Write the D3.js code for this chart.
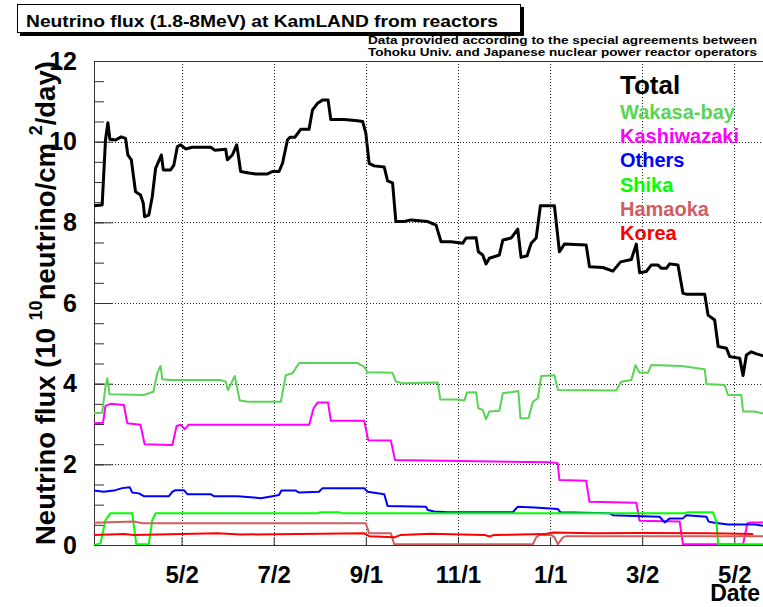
<!DOCTYPE html>
<html>
<head>
<meta charset="utf-8">
<title>KamLAND reactor flux</title>
<script src="https://cdn.jsdelivr.net/npm/d3@7"></script>
<style>
body { margin:0; background:#fff; }
svg { display:block; font-family:"Liberation Sans", Arial, Helvetica, sans-serif; font-weight:bold; }
</style>
</head>
<body>
<svg width="763" height="607"></svg>
<script>
// days counted from 2003-03-05
var tickDates = ["2003-05-02","2003-07-02","2003-09-01","2003-11-01","2004-01-01","2004-03-02","2004-05-02"];
var tickLabels = ["5/2","7/2","9/1","11/1","1/1","3/2","5/2"];

var totalDay = [0,5.4,7.6,9.2,10.5,14.3,18,20.9,22.4,24.7,27.5,30.8,32.6,33.5,36.3,38.6,40.8,44.6,45.9,50.7,52.9,55.2,57.4,60.7,65.1,77.3,79.9,87.2,88.3,91.6,94.5,96,97.1,101.6,107.1,114.9,118.2,122.5,124.8,128.1,129.8,133,137,142.4,144.7,148,151.3,155,156.8,165.6,174.5,177.9,180,182.2,185.5,192.2,194.4,197.7,199.9,205.4,209.9,221,226.5,229.8,236.4,244.2,246.4,253,254.5,257.4,259.6,261.8,268.4,270.7,276.2,280.6,282.8,286.8,289.5,292.8,295.6,304.9,308.2,311.5,325.9,328.1,337,343.6,348.7,355.8,359.1,361.3,365.7,369,373.5,375.7,379,381.2,386.7,390,392.2,404.4,406.6,411,413.3,418.8,421,427.6,429.8,432,435.3,438.7,444];
var totalVal = [8.41,8.43,10.04,10.47,10.06,10.04,10.12,10.08,9.67,9.55,8.76,8.68,8.48,8.14,8.18,8.64,9.34,9.67,9.30,9.30,9.42,9.88,9.92,9.82,9.86,9.86,9.79,9.81,9.55,9.67,9.92,9.55,9.26,9.23,9.20,9.20,9.26,9.26,9.46,10.04,10.11,10.11,10.31,10.31,10.79,10.95,11.03,11.03,10.55,10.55,10.52,10.50,10.21,9.46,9.40,9.37,9.03,8.98,8.02,8.02,8.06,8.02,7.93,7.52,7.52,7.48,7.61,7.62,7.27,7.19,6.97,7.11,7.19,7.56,7.61,7.83,7.13,7.17,7.48,7.61,8.41,8.41,7.27,7.46,7.44,6.90,6.88,6.79,7.02,7.08,7.46,6.75,6.78,6.94,6.94,6.86,6.86,6.97,6.94,6.24,6.22,6.22,5.70,5.58,4.92,4.88,4.67,4.63,4.20,4.71,4.79,4.74,4.68];

var wakasaDay = [0,5.4,7.6,8.8,10.3,33,39.3,41.9,44.1,45.2,50.7,83.9,87.2,88.7,93.2,96.5,101.6,123.7,127,131.4,135.8,174.5,178.9,181.2,197.7,199.9,204.4,227.6,229.3,240.8,245.2,247,253,254.5,257.4,259.6,261.8,268.4,270.7,276.2,281,282.4,287.7,290.6,293.9,296.1,304.9,307.2,345.8,349.1,355.8,358.6,361.3,366.8,369,388.9,404.4,405.5,417.6,419.8,428.6,429.8,437.5,444];
var wakasaVal = [3.27,3.28,3.93,4.13,3.74,3.72,3.80,4.26,4.44,4.11,4.09,4.09,4.05,3.84,4.19,3.58,3.55,3.55,4.21,4.26,4.51,4.51,4.42,4.28,4.27,4.05,4.01,4.03,3.61,3.61,3.58,3.78,3.79,3.39,3.35,3.12,3.31,3.33,3.76,3.79,3.82,3.14,3.14,3.55,3.64,4.19,4.21,3.84,3.83,4.05,4.09,4.46,4.27,4.27,4.46,4.44,4.36,3.99,3.97,3.72,3.72,3.31,3.31,3.25];

var kashiDay = [0,6,7.6,11,19.8,22,30.8,33.5,51.9,54.7,57.4,60.2,62.5,142.5,145.4,148,155,156.8,178.9,181.6,196.6,199.3,301.6,307,308.2,325.9,328.1,359.1,361.3,387.8,390,429.8,432.7,435,444];
var kashiVal = [3.02,3.03,3.45,3.50,3.47,3.02,2.98,2.50,2.48,2.95,2.98,2.87,2.98,2.98,3.39,3.53,3.53,3.08,3.08,2.60,2.59,2.11,2.05,2.03,1.61,1.59,1.07,1.05,0.60,0.58,0.02,0.02,0.54,0.56,0.56];

var othersDay = [0,6.5,14.3,18.7,23.7,25.3,29.7,33,49.6,51.9,54,59.5,61.8,77.3,79.4,95,106,110.4,118.2,122.5,124.1,133.6,135.8,149,151.3,178.9,181.2,192.2,194.4,219.8,221,225.3,234.2,277.3,280.6,291.6,307.2,308.9,341.4,343.6,358,374.5,377.9,381.2,390,392.2,405.5,407,411,419.9,437.5,444];
var othersVal = [1.35,1.32,1.36,1.41,1.43,1.30,1.28,1.21,1.21,1.32,1.36,1.36,1.26,1.26,1.21,1.21,1.18,1.16,1.21,1.24,1.35,1.35,1.30,1.32,1.41,1.41,1.32,1.26,0.97,0.95,0.87,0.83,0.81,0.81,0.95,0.93,0.89,0.81,0.79,0.74,0.72,0.70,0.56,0.66,0.66,0.74,0.70,0.58,0.55,0.51,0.51,0.47];

var shikaDay = [0,4.3,7.6,10.9,25.3,28,36.3,38.6,40.8,148,150.2,162.3,164.1,391.1,393.4,409.9,412.1,413.3,444];
var shikaVal = [0.00,0.04,0.62,0.79,0.79,0.02,0.02,0.62,0.79,0.79,0.81,0.81,0.79,0.79,0.81,0.81,0.58,0.02,0.02];

var hamaokaDay = [0,26.4,32,180,182.2,196.6,198.8,290.6,292.8,295,302.7,304.9,307.2,310.5,312.7,444];
var hamaokaVal = [0.55,0.58,0.54,0.54,0.29,0.29,0.02,0.02,0.19,0.25,0.25,0.19,0.02,0.19,0.22,0.22];

var koreaDay = [0,19.8,26.4,81.7,97.1,178.9,182.2,198.8,203.2,223,258.5,261.8,265.1,298.3,303.8,331.4,362.4,406.6,436.5];
var koreaVal = [0.25,0.27,0.25,0.29,0.26,0.29,0.22,0.19,0.25,0.28,0.25,0.21,0.25,0.27,0.31,0.29,0.30,0.29,0.27];

var seriesNames = ["Wakasa-bay","Kashiwazaki","Others","Shika","Hamaoka","Korea"];
var seriesColors = ["#59d454","#ff00ff","#0000ff","#00ff00","#cf5e61","#ff0000"];
var seriesDays = [wakasaDay,kashiDay,othersDay,shikaDay,hamaokaDay,koreaDay];
var seriesVals = [wakasaVal,kashiVal,othersVal,shikaVal,hamaokaVal,koreaVal];

var plotLeft = 94, plotRight = 763, plotTop = 61, plotBottom = 545;
var t0 = new Date(2003, 2, 5);
function dayToDate(d) { return new Date(t0.getTime() + d*864e5); }

var x = d3.scaleTime().domain([t0, new Date(2004, 4, 21)]).range([plotLeft, plotRight]);
var y = d3.scaleLinear().domain([0, 12]).range([plotBottom, plotTop]);
var parse = d3.timeParse("%Y-%m-%d");
var ticks = tickDates.map(parse);

var svg = d3.select("svg");

// grid
var grid = svg.append("g").attr("stroke","#222").attr("stroke-width",1).attr("stroke-dasharray","1,2");
grid.selectAll(".gx").data(ticks).enter().append("line")
  .attr("x1",function(d){return Math.round(x(d))+0.5;}).attr("x2",function(d){return Math.round(x(d))+0.5;})
  .attr("y1",plotTop).attr("y2",plotBottom);
grid.selectAll(".gy").data([2,4,6,8,10]).enter().append("line")
  .attr("x1",plotLeft).attr("x2",plotRight)
  .attr("y1",function(d){return Math.round(y(d))+0.5;}).attr("y2",function(d){return Math.round(y(d))+0.5;});

// frame
svg.append("rect").attr("x",plotLeft+0.5).attr("y",plotTop+0.5).attr("width",plotRight-plotLeft).attr("height",plotBottom-plotTop)
  .attr("fill","none").attr("stroke","#333");

// y axis: minor + major ticks
var minorAxis = d3.axisLeft(y).tickValues(d3.range(0, 12.01, 0.5)).tickSizeInner(-10).tickSizeOuter(0).tickFormat("");
svg.append("g").attr("transform","translate("+plotLeft+",0)").call(minorAxis)
  .call(function(g){ g.select(".domain").remove(); g.selectAll("line").attr("stroke","#333"); });
var yAxis = d3.axisLeft(y).tickValues([0,2,4,6,8,10,12]).tickSizeInner(-19).tickSizeOuter(0).tickPadding(17);
svg.append("g").attr("transform","translate("+plotLeft+",0)").call(yAxis)
  .call(function(g){
    g.select(".domain").remove();
    g.selectAll("line").attr("stroke","#333");
    g.selectAll("text").attr("font-size",25).attr("font-family","Liberation Sans, Arial").attr("font-weight","bold").attr("fill","#000");
  });

// x axis
var xAxis = d3.axisBottom(x).tickValues(ticks).tickSizeInner(-8).tickSizeOuter(0).tickPadding(21)
  .tickFormat(function(d,i){ return tickLabels[i]; });
svg.append("g").attr("transform","translate(0,"+plotBottom+")").call(xAxis)
  .call(function(g){
    g.select(".domain").remove();
    g.selectAll("line").attr("stroke","#333");
    g.selectAll("text").attr("font-size",24).attr("font-family","Liberation Sans, Arial").attr("font-weight","bold").attr("fill","#000");
  });

svg.append("text").attr("x",760).attr("y",601).attr("text-anchor","end").attr("font-size",23).text("Date");

// lines
svg.append("clipPath").attr("id","plotclip").append("rect")
  .attr("x",plotLeft).attr("y",plotTop).attr("width",plotRight-plotLeft).attr("height",plotBottom-plotTop);
var plot = svg.append("g").attr("clip-path","url(#plotclip)");

var line = d3.line().x(function(p){return x(dayToDate(p[0]));}).y(function(p){return y(p[1]);});

seriesNames.forEach(function(name, k) {
  var pts = seriesDays[k].map(function(d,i){ return [d, seriesVals[k][i]]; });
  plot.append("path").datum(pts).attr("d", line)
    .attr("fill","none").attr("stroke",seriesColors[k]).attr("stroke-width",2).attr("stroke-linejoin","round");
});
var totalPts = totalDay.map(function(d,i){ return [d, totalVal[i]]; });
plot.append("path").datum(totalPts).attr("d", line)
  .attr("fill","none").attr("stroke","#000").attr("stroke-width",3).attr("stroke-linejoin","round");

// legend
svg.append("text").attr("x",620).attr("y",94).attr("font-size",26).attr("fill","#000").text("Total");
svg.selectAll(".leg").data(seriesNames).enter().append("text")
  .attr("x",620).attr("y",function(d,i){return 119 + i*24.2;})
  .attr("font-size",20).attr("fill",function(d,i){return seriesColors[i];})
  .text(function(d){return d;});

// title box
svg.append("rect").attr("x",20).attr("y",7).attr("width",504).attr("height",29).attr("fill","#000");
svg.append("rect").attr("x",17.5).attr("y",4.5).attr("width",503).attr("height",28).attr("fill","#fff").attr("stroke","#000");
svg.append("text").attr("x",26).attr("y",27).attr("font-size",17)
  .attr("textLength",472).attr("lengthAdjust","spacingAndGlyphs")
  .text("Neutrino flux (1.8-8MeV) at KamLAND from reactors");

// data note
svg.append("text").attr("x",368).attr("y",44).attr("font-size",11)
  .attr("textLength",389).attr("lengthAdjust","spacingAndGlyphs")
  .text("Data provided according to the special agreements between");
svg.append("text").attr("x",368).attr("y",55.5).attr("font-size",11)
  .attr("textLength",389).attr("lengthAdjust","spacingAndGlyphs")
  .text("Tohoku Univ. and Japanese nuclear power reactor operators");

// y title
var yt = svg.append("text").attr("transform","translate(55,545) rotate(-90)").attr("font-size",27.5);
yt.append("tspan").text("Neutrino flux (10 ");
yt.append("tspan").attr("font-size",18).attr("dy",-13).text("10");
yt.append("tspan").attr("dy",13).text("neutrino/cm ");
yt.append("tspan").attr("font-size",18).attr("dy",-13).text("2");
yt.append("tspan").attr("dy",13).text("/day)");
</script>
</body>
</html>
